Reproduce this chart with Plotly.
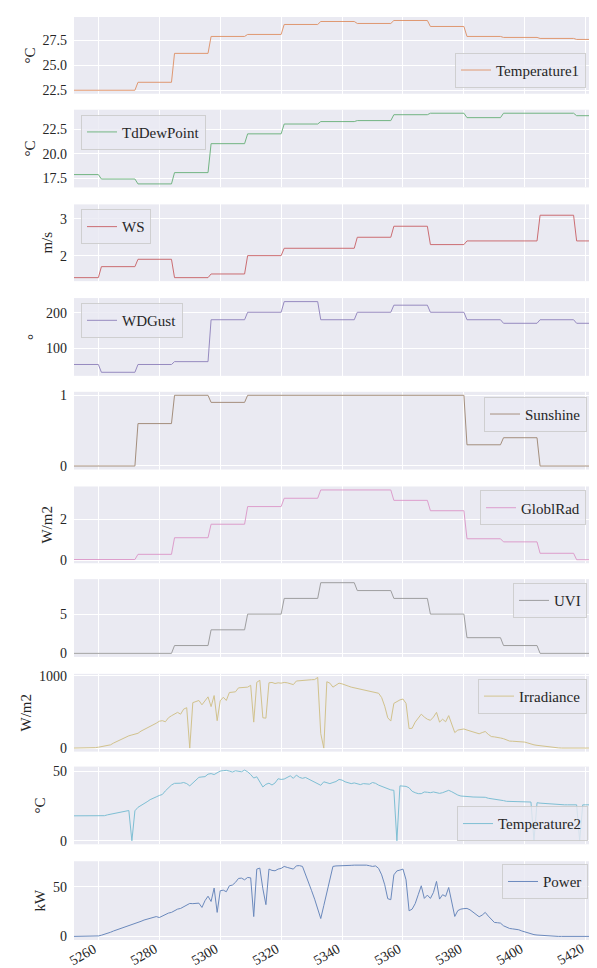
import numpy as np
import plotly.graph_objects as go

# ---------------- data ----------------
x_start, x_end = 5252, 5425
x_values = np.arange(x_start, x_end + 1)

# samples (5-min steps) in each hourly block of the step-like series
hour_samples = [9] + [12] * 13 + [7, 2]

temperature1_hourly = [22.5, 22.5, 23.3, 26.2, 27.9, 28.1, 29.1, 29.4, 29.2, 29.5, 28.9, 27.9, 27.8, 27.7, 27.6, 27.3]
tddewpoint_hourly = [17.9, 17.45, 16.95, 18.1, 21.05, 22.05, 23.05, 23.3, 23.4, 24.0, 24.15, 23.7, 24.15, 24.15, 23.9, 22.9]
ws_hourly = [1.4, 1.7, 1.9, 1.4, 1.5, 2.0, 2.2, 2.2, 2.5, 2.8, 2.3, 2.4, 2.4, 3.1, 2.4, 3.3]
wdgust_hourly = [55, 33, 55, 63, 181, 202, 232, 181, 202, 222, 202, 181, 171, 181, 171, 135]
sunshine_hourly = [0, 0, 0.6, 1.0, 0.9, 1.0, 1.0, 1.0, 1.0, 1.0, 1.0, 0.3, 0.4, 0, 0, 0]
globlrad_hourly = [0.05, 0.05, 0.3, 1.1, 1.75, 2.6, 3.0, 3.4, 3.4, 2.9, 2.4, 1.05, 0.9, 0.35, 0.04, 0.04]
uvi_hourly = [0, 0, 0, 1, 3, 5, 7, 9, 8, 7, 5, 2, 1, 0, 0, 0]

irradiance = [
    0, 0, 0, 0, 0, 0, 2, 6, 12, 18,                      # 5252
    26, 35, 45, 70, 92, 115, 135, 155, 170, 182,         # 5262
    190, 205, 235, 255, 280, 300, 320, 345, 372, 380,    # 5272
    365, 420, 448, 470, 495, 470, 540, 560, 0, 630,      # 5282
    645, 660, 600, 650, 710, 575, 728, 380, 655, 705,    # 5292
    660, 770, 772, 780, 835, 840, 850, 845, 870, 360,    # 5302
    912, 940, 420, 415, 905, 910, 895, 905, 900, 910,    # 5312
    905, 895, 880, 930, 935, 942, 945, 945, 948, 950,    # 5322
    980, 200, 0, 920, 900, 845, 870, 900, 890, 870,      # 5332
    860, 845, 835, 825, 815, 808, 800, 792, 783, 772,    # 5342
    760, 700, 580, 420, 375, 620, 650, 668, 680, 620,    # 5352
    270, 275, 360, 410, 470, 430, 400, 385, 430, 495,    # 5362
    360, 400, 365, 450, 330, 215, 250, 260, 265, 250,    # 5372
    238, 230, 210, 198, 215, 230, 190, 160, 155, 152,    # 5382
    140, 130, 110, 97, 95, 92, 92, 88, 83, 70,           # 5392
    55, 45, 38, 32, 25, 18, 12, 8, 5, 3,                 # 5402
    0, 0, 0, 0, 0, 0, 0, 0, 0, 0,                        # 5412
    0, 0, 0, 0,                                          # 5422
]

temperature2 = [
    17.9, 17.9, 17.9, 17.9, 17.9, 17.9, 17.9, 17.9, 17.9, 17.9,   # 5252
    18.0, 18.6, 19.0, 19.5, 19.9, 20.4, 20.8, 21.2, 21.7, 0,      # 5262
    21.5, 24.0, 25.2, 26.5, 28.0, 29.5, 30.3, 31.5, 32.5, 33.2,   # 5272
    35.8, 38.0, 40.0, 41.2, 41.0, 41.3, 41.8, 41.0, 39.4, 41.5,   # 5282
    44.0, 45.5, 45.8, 46.0, 47.8, 48.2, 47.5, 48.5, 50.0, 50.3,   # 5292
    50.5, 50.0, 49.3, 50.2, 49.8, 49.5, 50.7, 49.5, 47.5, 45.0,   # 5302
    45.9, 42.0, 38.6, 40.5, 41.3, 40.0, 41.5, 44.5, 44.0, 44.3,   # 5312
    45.5, 46.6, 44.8, 47.1, 45.5, 44.8, 45.4, 44.2, 43.5, 42.2,   # 5322
    40.5, 39.8, 42.3, 41.5, 41.0, 41.8, 42.5, 44.0, 43.5, 42.3,   # 5332
    41.5, 41.0, 41.5, 40.8, 40.3, 41.0, 40.8, 40.6, 41.8, 41.2,   # 5342
    39.9, 39.0, 38.2, 37.5, 36.5, 36.2, 0, 39.4, 39.4, 39.0,      # 5352
    38.0, 35.5, 34.5, 33.8, 33.8, 35.0, 34.8, 34.5, 35.0, 34.5,   # 5362
    34.0, 34.5, 35.5, 36.2, 35.2, 33.8, 32.8, 32.1, 32.1, 32.0,   # 5372
    31.6, 31.4, 31.4, 31.4, 31.0, 31.2, 30.5, 30.2, 30.0, 29.8,   # 5382
    29.5, 28.8, 28.3, 28.3, 28.3, 28.3, 28.2, 28.0, 27.9, 27.8,   # 5392
    27.8, 0, 27.3, 27.0, 26.8, 26.6, 26.4, 26.2, 26.0, 25.8,      # 5402
    25.8, 25.8, 25.8, 25.8, 25.8, 25.8, 0, 25.8, 25.8, 25.8,      # 5412
    25.8, 25.8, 25.8, 25.8,                                       # 5422
]

power = [
    0, 0, 0, 0, 0, 0, 0, 0, 0.5, 1.2,                       # 5252
    2.0, 3.0, 4.2, 5.5, 6.5, 7.6, 8.6, 9.7, 10.5, 11.7,     # 5262
    12.8, 14.0, 15.2, 16.5, 17.2, 18.0, 19.0, 20.0, 19.0, 20.5,  # 5272
    22.5, 23.5, 24.2, 26.0, 27.5, 28.2, 29.8, 31.5, 33.2, 33.0,  # 5282
    33.2, 33.5, 29.2, 36.0, 40.5, 35.2, 48.7, 24.2, 46.0, 46.6,  # 5292
    45.0, 51.0, 51.7, 54.4, 58.4, 58.7, 57.0, 59.4, 59.0, 20.0,  # 5302
    67.8, 68.8, 48.0, 32.0, 67.8, 66.5, 66.1, 67.8, 68.5, 70.5,  # 5312
    69.5, 68.8, 67.8, 71.1, 71.3, 70.5, 63.0, 54.5, 46.0, 37.5,  # 5322
    28.0, 18.0, 31.0, 45.0, 58.0, 70.5, 71.0, 71.0, 71.2, 71.2,  # 5332
    71.5, 71.6, 71.8, 71.8, 72.0, 72.1, 71.8, 71.2, 70.5, 71.0,  # 5342
    68.5, 62.0, 52.0, 38.0, 37.0, 62.0, 66.0, 66.8, 67.8, 57.0,  # 5352
    25.8, 27.5, 33.0, 42.0, 51.0, 38.3, 41.6, 38.3, 44.3, 55.4,  # 5362
    37.6, 42.0, 40.3, 49.3, 33.0, 20.1, 26.0, 27.5, 28.0, 28.2,  # 5372
    26.8, 24.5, 22.5, 19.8, 21.5, 24.2, 20.5, 17.5, 14.1, 13.8,  # 5382
    13.4, 10.7, 9.2, 8.0, 7.6, 7.2, 6.7, 5.5, 4.5, 3.2,          # 5392
    2.5, 1.8, 1.4, 1.1, 0.8, 0.6, 0.3, 0, 0, 0,                  # 5402
    0, 0, 0, 0, 0, 0, 0, 0, 0, 0,                                # 5412
    0, 0, 0, 0,                                                  # 5422
]

x_tick_values = [5260, 5280, 5300, 5320, 5340, 5360, 5380, 5400, 5420]

series_names = ["Temperature1", "TdDewPoint", "WS", "WDGust", "Sunshine",
                "GloblRad", "UVI", "Irradiance", "Temperature2", "Power"]
series_units = ["°C", "°C", "m/s", "°", "", "W/m2", "", "W/m2", "°C", "kW"]
y_tick_values = [[22.5, 25.0, 27.5], [17.5, 20.0, 22.5], [2, 3], [100, 200], [0, 1],
                 [0, 2], [0, 5], [0, 1000], [0, 50], [0, 50]]
y_tick_labels = [["22.5", "25.0", "27.5"], ["17.5", "20.0", "22.5"], ["2", "3"], ["100", "200"],
                 ["0", "1"], ["0", "2"], ["0", "5"], ["0", "1000"], ["0", "50"], ["0", "50"]]

# ---------------- styling ----------------
colors = ["#DD8452", "#55A868", "#C44E52", "#8172B3", "#937860",
          "#DA8BC3", "#8C8C8C", "#CCB974", "#64B5CD", "#4C72B0"]

W, H = 597, 968
ML, MR, MT, MB = 66, 4, 6, 36
plot_w = W - ML - MR
plot_h = H - MT - MB
panel_tops = [6, 99, 194, 288, 382, 477, 570, 665, 758, 853]
panel_bottoms = [83, 177, 271, 366, 460, 554, 648, 743, 836, 932]

# legend box anchor: (px left, px y, yanchor)
legend_pos = [(447, 77, "bottom"), (73, 104, "top"), (73, 199, "top"),
              (73, 293, "top"), (476, 387, "top"), (472, 481, "top"),
              (505, 574, "top"), (470, 670, "top"), (449, 833, "bottom"),
              (494, 856, "top")]

FONT = "Liberation Serif, Times New Roman, serif"
TEXT = "#262626"


def px_to_paper_x(px):
    return (px - ML) / plot_w


def px_to_paper_y(py):
    return (H - MB - py) / plot_h


def expand(hourly):
    return np.repeat(np.asarray(hourly, dtype=float), hour_samples)


data = [expand(temperature1_hourly), expand(tddewpoint_hourly), expand(ws_hourly),
        expand(wdgust_hourly), expand(sunshine_hourly), expand(globlrad_hourly),
        expand(uvi_hourly), np.asarray(irradiance, float), np.asarray(temperature2, float),
        np.asarray(power, float)]

fig = go.Figure()
layout = dict(
    width=W, height=H,
    margin=dict(l=ML, r=MR, t=MT, b=MB, pad=0),
    paper_bgcolor="white", plot_bgcolor="#EAEAF2",
    font=dict(family=FONT, size=14, color=TEXT),
)

for i, (name, vals) in enumerate(zip(series_names, data)):
    k = i + 1
    sfx = "" if k == 1 else str(k)
    leg = "legend" if k == 1 else f"legend{k}"
    fig.add_trace(go.Scatter(
        x=x_values, y=vals, mode="lines", name=name,
        line=dict(color=colors[i], width=1), opacity=0.8,
        xaxis=f"x{sfx}", yaxis=f"y{sfx}", legend=leg, showlegend=True,
        hoverinfo="skip",
    ))
    lo, hi = float(np.min(vals)), float(np.max(vals))
    span = hi - lo
    layout[f"xaxis{sfx}"] = dict(
        domain=[0, 1], anchor=f"y{sfx}", range=[x_start, x_end],
        tickvals=x_tick_values, showticklabels=False, ticks="",
        showgrid=True, gridcolor="white", gridwidth=1,
        showline=False, zeroline=False,
        **({} if k == 1 else {"matches": "x"}),
    )
    layout[f"yaxis{sfx}"] = dict(
        domain=[px_to_paper_y(panel_bottoms[i]), px_to_paper_y(panel_tops[i])],
        anchor=f"x{sfx}", range=[lo - 0.05 * span, hi + 0.05 * span],
        tickvals=y_tick_values[i], ticktext=y_tick_labels[i], ticks="",
        ticklabelstandoff=6,
        showgrid=True, gridcolor="white", gridwidth=1,
        showline=False, zeroline=False,
        tickfont=dict(family=FONT, size=14, color=TEXT),
        title=dict(text=series_units[i], font=dict(family=FONT, size=15, color=TEXT), standoff=3),
    )
    lx, ly, ya = legend_pos[i]
    layout[leg] = dict(
        x=px_to_paper_x(lx), y=px_to_paper_y(ly), xanchor="left", yanchor=ya,
        bgcolor="rgba(234,234,242,0.8)", bordercolor="rgba(204,204,204,0.9)", borderwidth=1,
        font=dict(family=FONT, size=15, color=TEXT), itemwidth=30,
    )

# rotated x tick labels, right end at each tick (as in the reference); centre-anchored
annotations = []
for v in x_tick_values:
    annotations.append(dict(
        x=v, xref="x10", y=px_to_paper_y(947), yref="paper",
        text=str(v), showarrow=False, textangle=-30,
        xanchor="center", yanchor="middle", xshift=-15,
        font=dict(family=FONT, size=14, color=TEXT),
    ))
layout["annotations"] = annotations

fig.update_layout(**layout)
fig.write_html("out.html")
